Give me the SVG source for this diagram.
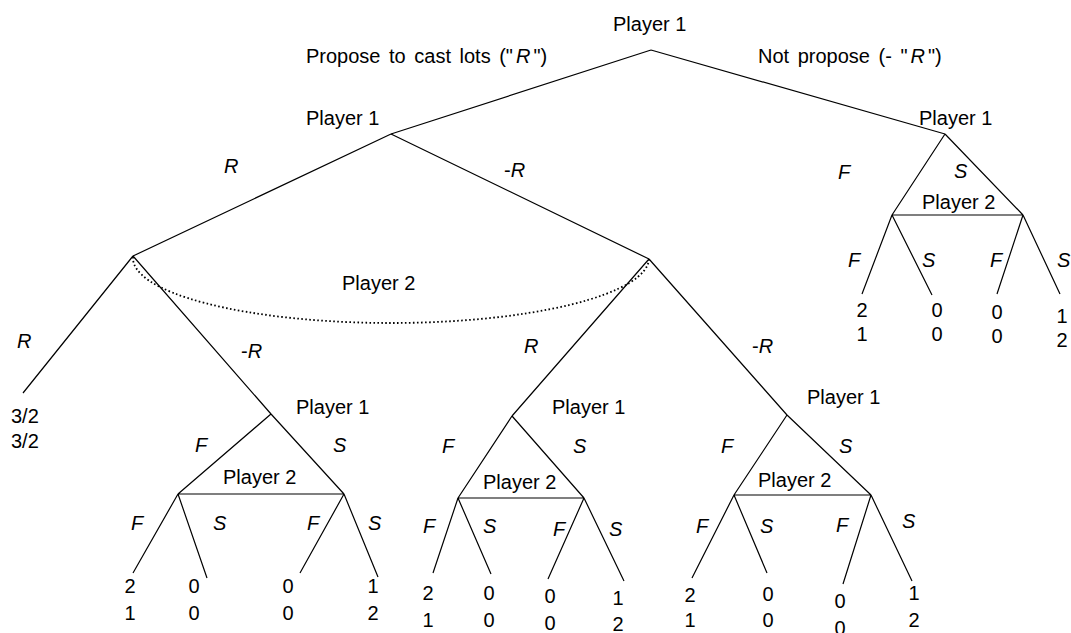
<svg xmlns="http://www.w3.org/2000/svg" width="1071" height="633" viewBox="0 0 1071 633">
<style>
text{font-family:"Liberation Sans",Arial,sans-serif;font-size:20px;fill:#000}
.i{font-style:italic}
.m{text-anchor:middle}
.w{word-spacing:3px}
.e{stroke:#000;stroke-width:1.2;fill:none}
.info{stroke:#000;stroke-width:1.8;fill:none;stroke-dasharray:1.6 2.4}
</style>
<rect width="1071" height="633" fill="#fff"/>
<g id="connectors">
<path class="e" d="M651,50 L391,134 M651,50 L945,134"/>
<path class="e" d="M945,134 L892,215 M945,134 L1023,215 M892,215 L1023,215 M892,215 L862,294 M892,215 L932,295 M1023,215 L997,294 M1023,215 L1060,294"/>
<path class="e" d="M391,134 L133,256 M391,134 L649,259"/>
<path class="e" d="M133,256 L23,393 M133,256 L271,414 M649,259 L512,416 M649,259 L787,415"/>
<path class="info" d="M133,257 A258,65 0 0,0 649,259"/>
<path class="e" d="M271,414 L178,494 M271,414 L344,494 M178,494 L344,494 M178,494 L133,573 M178,494 L207,578 M344,494 L300,573 M344,494 L378,577"/>
<path class="e" d="M512,416 L458,498 M512,416 L584,498 M458,498 L584,498 M458,498 L433,573 M458,498 L491,574 M584,498 L548,579 M584,498 L624,581"/>
<path class="e" d="M787,415 L734,495 M787,415 L871,495 M734,495 L871,495 M734,495 L692,578 M734,495 L767,573 M871,495 L843,584 M871,495 L912,581"/>
</g>
<g id="root"><text x="613" y="31">Player 1</text></g>
<g id="branch-labels-top">
<text class="w" x="306" y="63">Propose to cast lots ("<tspan class="i" dx="3">R</tspan><tspan dx="3">")</tspan></text>
<text class="w" x="758" y="63">Not propose (- "<tspan class="i" dx="3">R</tspan><tspan dx="3">")</tspan></text>
</g>
<g id="p1-left"><text x="306" y="125">Player 1</text>
<text class="i" x="224" y="173">R</text><text x="504" y="177">-<tspan class="i">R</tspan></text></g>
<g id="p1-right"><text x="919" y="125">Player 1</text>
<text class="i" x="838" y="179">F</text><text class="i" x="954" y="178">S</text></g>
<g id="p2-right"><text x="922" y="209">Player 2</text>
<text class="i" x="848" y="267">F</text><text class="i" x="922" y="267">S</text><text class="i" x="990" y="267">F</text><text class="i" x="1057" y="267">S</text></g>
<g id="payoffs-right">
<text class="m" x="862" y="317">2</text><text class="m" x="862" y="341">1</text>
<text class="m" x="937" y="317">0</text><text class="m" x="937" y="341">0</text>
<text class="m" x="997" y="319">0</text><text class="m" x="997" y="343">0</text>
<text class="m" x="1062" y="323">1</text><text class="m" x="1062" y="347">2</text>
</g>
<g id="p2-infoset"><text x="342" y="290">Player 2</text>
<text class="i" x="17" y="348">R</text><text x="241" y="358">-<tspan class="i">R</tspan></text>
<text class="i" x="524" y="353">R</text><text x="752" y="353">-<tspan class="i">R</tspan></text></g>
<g id="leaf-rr"><text x="11" y="423">3/2</text><text x="11" y="448">3/2</text></g>
<g id="sub1">
<text x="296" y="414">Player 1</text>
<text class="i" x="195" y="452">F</text><text class="i" x="333" y="452">S</text>
<text x="223" y="484">Player 2</text>
<text class="i" x="131" y="530">F</text><text class="i" x="213" y="530">S</text><text class="i" x="307" y="530">F</text><text class="i" x="368" y="530">S</text>
<text class="m" x="130" y="593">2</text><text class="m" x="130" y="620">1</text>
<text class="m" x="194" y="593">0</text><text class="m" x="194" y="620">0</text>
<text class="m" x="288" y="593">0</text><text class="m" x="288" y="620">0</text>
<text class="m" x="373" y="593">1</text><text class="m" x="373" y="620">2</text>
</g>
<g id="sub2">
<text x="552" y="414">Player 1</text>
<text class="i" x="442" y="453">F</text><text class="i" x="573" y="453">S</text>
<text x="483" y="489">Player 2</text>
<text class="i" x="423" y="533">F</text><text class="i" x="483" y="533">S</text><text class="i" x="553" y="536">F</text><text class="i" x="609" y="536">S</text>
<text class="m" x="428" y="600">2</text><text class="m" x="428" y="627">1</text>
<text class="m" x="489" y="600">0</text><text class="m" x="489" y="627">0</text>
<text class="m" x="550" y="603">0</text><text class="m" x="550" y="630">0</text>
<text class="m" x="618" y="605">1</text><text class="m" x="618" y="631">2</text>
</g>
<g id="sub3">
<text x="807" y="404">Player 1</text>
<text class="i" x="721" y="453">F</text><text class="i" x="839" y="453">S</text>
<text x="758" y="487">Player 2</text>
<text class="i" x="696" y="533">F</text><text class="i" x="760" y="533">S</text><text class="i" x="836" y="532">F</text><text class="i" x="902" y="528">S</text>
<text class="m" x="690" y="602">2</text><text class="m" x="690" y="627">1</text>
<text class="m" x="768" y="601">0</text><text class="m" x="768" y="627">0</text>
<text class="m" x="840" y="608">0</text><text class="m" x="840" y="635">0</text>
<text class="m" x="914" y="600">1</text><text class="m" x="914" y="627">2</text>
</g>
</svg>
